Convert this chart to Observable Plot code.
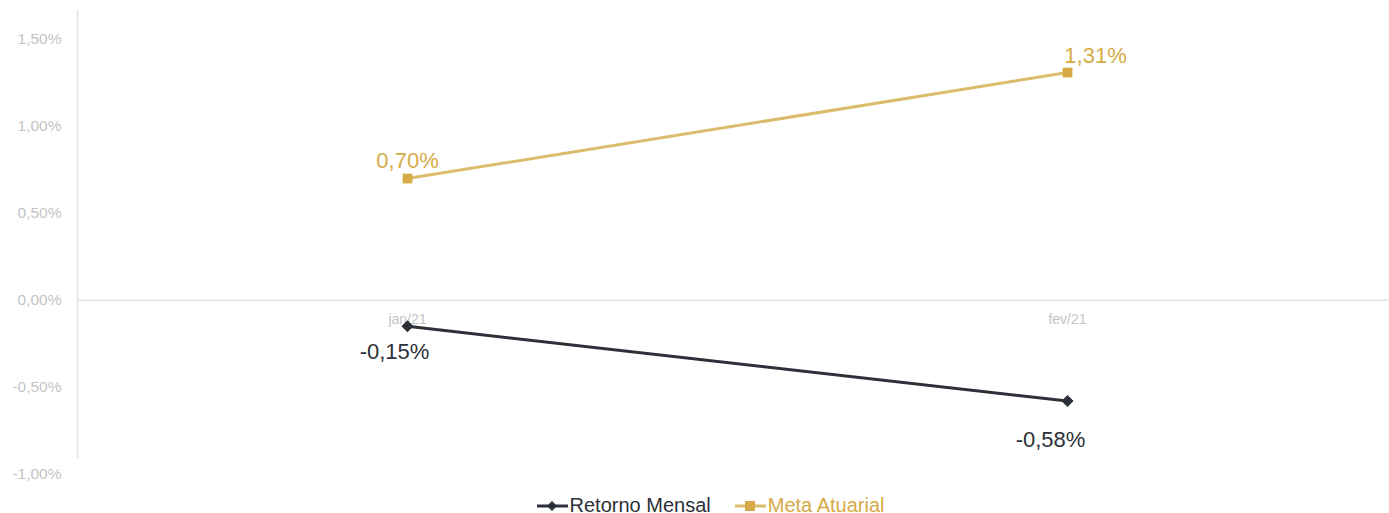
<!DOCTYPE html>
<html>
<head>
<meta charset="utf-8">
<script src="https://cdn.jsdelivr.net/npm/d3@7"></script>
<script src="https://cdn.jsdelivr.net/npm/@observablehq/plot@0.6"></script>
<style>
  html, body { margin: 0; padding: 0; background: #fff; }
  body { width: 1389px; font-family: "Liberation Sans", Arial, sans-serif; }
  #legend { display: flex; justify-content: center; align-items: center; height: 23px; font-size: 20px; margin-left: 32px; position: relative; top: 4px; }
  .item { display: flex; align-items: center; margin: 0 12px; }
  .item svg { margin-right: 2px; }
</style>
</head>
<body>
<div id="chart"></div>
<div id="legend"></div>
<script>
const months = ["jan/21", "fev/21"];
const retornoMensal = [-0.15, -0.58];
const metaAtuarial = [0.70, 1.31];
const yTicks = [-1.0, -0.5, 0, 0.5, 1.0, 1.5];
const seriesNames = ["Retorno Mensal", "Meta Atuarial"];

const darkCol = "#2c3038";
const goldLine = "#dcbc6c";
const goldMark = "#d6aa46";
const gray = "#c4c4c4";

const fmt = v => v.toFixed(2).replace(".", ",") + "%";

const ret = months.map((m, i) => ({month: m, value: retornoMensal[i], i}));
const meta = months.map((m, i) => ({month: m, value: metaAtuarial[i], i}));

const plot = Plot.plot({
  width: 1389,
  height: 490,
  marginLeft: 77,
  marginRight: 0,
  marginTop: 10,
  marginBottom: 33,
  style: {fontFamily: "Liberation Sans, Arial, sans-serif", background: "#fff"},
  x: {type: "point", domain: months, range: [77, 1397], padding: 0.5, axis: null},
  y: {domain: [-0.905, 1.667], axis: null},
  marks: [
    Plot.frame({anchor: "left", stroke: "#e2e2e2", strokeWidth: 1.5}),
    Plot.ruleY([0], {stroke: "#e2e2e2", strokeWidth: 1.5}),
    Plot.axisY({ticks: yTicks, tickSize: 0, tickPadding: 16, tickFormat: fmt, fill: gray, fontSize: 15.5, label: null}),
    Plot.text(months, {x: d => d, y: () => 0, dy: 19, text: d => d, fill: gray, fontSize: 14}),
    Plot.line(meta, {x: "month", y: "value", stroke: goldLine, strokeWidth: 3}),
    Plot.line(ret, {x: "month", y: "value", stroke: darkCol, strokeWidth: 3}),
    Plot.dot(meta, {x: "month", y: "value", symbol: "square", fill: goldMark, r: 5.5}),
    Plot.dot(ret, {x: "month", y: "value", symbol: "diamond2", fill: darkCol, stroke: darkCol, r: 4.5}),
    Plot.text(meta.filter(d => d.i === 0), {x: "month", y: "value", text: d => fmt(d.value), fill: goldMark, fontSize: 22, dy: -18}),
    Plot.text(meta.filter(d => d.i === 1), {x: "month", y: "value", text: d => fmt(d.value), fill: goldMark, fontSize: 22, dy: -17, dx: 28}),
    Plot.text(ret.filter(d => d.i === 0), {x: "month", y: "value", text: d => fmt(d.value), fill: darkCol, fontSize: 22, dy: 26, dx: -13}),
    Plot.text(ret.filter(d => d.i === 1), {x: "month", y: "value", text: d => fmt(d.value), fill: darkCol, fontSize: 22, dy: 39, dx: -17})
  ]
});
document.getElementById("chart").appendChild(plot);

const legend = document.getElementById("legend");
const items = [
  {name: seriesNames[0], line: darkCol, mark: darkCol, text: darkCol, shape: "diamond"},
  {name: seriesNames[1], line: goldLine, mark: goldMark, text: goldMark, shape: "square"}
];
for (const it of items) {
  const div = document.createElement("div");
  div.className = "item";
  const markEl = it.shape === "diamond"
    ? `<path d="M15,6 L20,11 L15,16 L10,11 Z" fill="${it.mark}"/>`
    : `<rect x="10" y="6" width="10" height="10" fill="${it.mark}"/>`;
  div.innerHTML = `<svg width="31" height="22"><line x1="0" x2="31" y1="11" y2="11" stroke="${it.line}" stroke-width="3"/>${markEl}</svg><span style="color:${it.text}">${it.name}</span>`;
  legend.appendChild(div);
}
</script>
</body>
</html>
